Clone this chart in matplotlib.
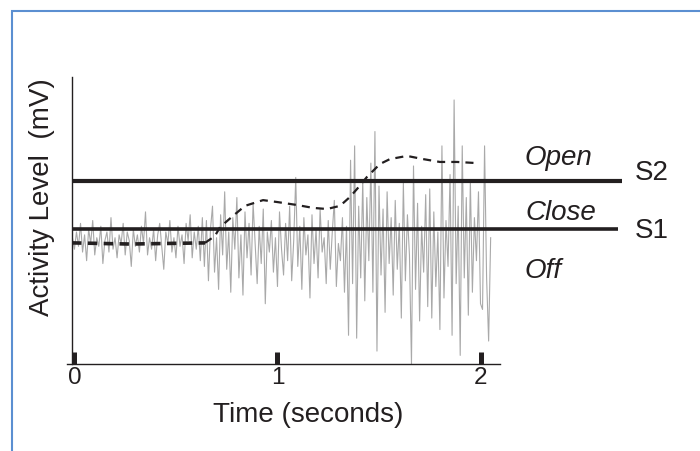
import numpy as np
import matplotlib
matplotlib.use("Agg")
import matplotlib.pyplot as plt
from matplotlib.patches import Rectangle

plt.rcParams['font.family'] = ['Liberation Sans', 'DejaVu Sans']
plt.rcParams['lines.scale_dashes'] = False

# raw activity trace, sampled every 10 ms starting at -0.01 s (values in mV)
sample_step = 0.01
sample_start = -0.01
activity = [
    # baseline (off)
    4.4, 4.0, 4.6, 4.1, 4.9, 3.9, 4.5, 3.6, 4.7, 4.2, 5.0, 3.8, 4.4, 4.1, 4.8, 3.5, 4.3, 4.6, 3.9, 5.1,
    4.0, 4.4, 3.7, 4.5, 4.2, 4.9, 3.8, 4.6, 4.3, 3.4, 4.7, 4.1, 4.5, 3.9, 4.8, 4.2, 5.3, 3.8, 4.4, 4.0,
    4.7, 3.6, 4.5, 4.9, 4.1, 3.3, 4.6, 4.2, 5.0, 3.9, 4.4, 3.7, 4.8, 4.1, 4.5, 3.5, 4.9, 4.3, 5.2, 3.7,
    4.6, 4.0, 4.8, 3.6, 5.1,
    # first contraction
    3.4, 5.0, 2.9, 4.7, 5.5, 3.2, 4.4, 2.6, 5.2, 3.8, 6.0, 3.3, 4.6, 2.5, 5.1, 4.0, 5.8, 3.0, 4.5, 2.4,
    5.3, 3.7, 4.9, 3.1, 5.6, 4.2, 2.8, 4.8, 3.5, 5.4, 2.1, 4.6, 3.9, 5.0, 3.2, 4.4, 2.7, 5.3, 4.0, 3.1,
    4.9, 3.6, 5.5, 2.9, 4.3, 6.5, 3.4, 4.8, 2.6, 5.1, 3.8, 4.5, 2.3, 5.2, 3.5, 4.7, 3.0, 5.4, 3.9, 4.4,
    2.8, 5.0, 3.3, 4.6, 5.7, 2.7, 4.2, 3.6, 5.1, 2.5, 4.8,
    # strong contraction
    1.0, 7.1, 2.8, 7.6, 0.9, 5.5, 3.0, 6.4, 2.2, 5.8, 3.6, 7.0, 2.5, 8.1, 0.45, 6.2, 3.1, 5.4, 1.8, 6.0,
    3.5, 5.1, 2.4, 5.7, 3.3, 4.9, 1.6, 6.3, 2.9, 5.2, 3.8, 0.0, 6.9, 2.6, 5.6, 1.5, 4.8, 3.2, 5.9, 2.0,
    6.1, 1.6, 5.3, 2.7, 4.6, 1.2, 7.6, 2.3, 5.0, 3.4, 6.6, 1.0, 9.2, 2.8, 5.5, 0.3, 7.6, 3.0, 5.8, 1.7,
    6.4, 2.5, 5.1, 3.6, 6.0, 2.1, 1.9, 7.6, 3.0, 0.8, 4.4,
]
activity_t = sample_start + sample_step * np.arange(len(activity))

# smoothed envelope (dashed)
env_t_rest = [-0.012, 0.273, 0.643]
env_y_rest = [4.22, 4.18, 4.22]
env_t = [0.643, 0.692, 0.717, 0.781, 0.840, 0.929, 1.002, 1.096, 1.175, 1.244, 1.308,
         1.357, 1.392, 1.441, 1.505, 1.554, 1.638, 1.717, 1.800, 1.884, 1.983]
env_y = [4.22, 4.46, 4.77, 5.16, 5.51, 5.71, 5.64, 5.54, 5.44, 5.40, 5.51,
         5.82, 6.10, 6.52, 6.97, 7.14, 7.25, 7.14, 7.04, 7.04, 7.00]

# thresholds
s1_level = 4.70
s2_level = 6.38
x_ticks = [0, 1, 2]

fig = plt.figure(figsize=(7, 4.52), dpi=100)
ax = fig.add_axes([72 / 700, 87 / 452, 428 / 700, 287 / 452])

ax.plot(activity_t, activity, color='#a9a9a9', lw=0.8, zorder=2)
ax.plot(env_t_rest, env_y_rest, color='#231f20', lw=2.6, ls=(0, (6.8, 4.6)), zorder=3)
ax.plot(env_t, env_y, color='#231f20', lw=1.6, ls=(0, (5.8, 4.4)), zorder=3)

ax.plot([-0.012, 2.697], [s2_level, s2_level], color='#231f20', lw=3.0, clip_on=False, zorder=4,
        solid_capstyle='butt')
ax.plot([-0.012, 2.677], [s1_level, s1_level], color='#231f20', lw=2.6, clip_on=False, zorder=4,
        solid_capstyle='butt')

txt = dict(fontsize=20, color='#231f20', va='baseline', ha='left')
ax.text(2.219, 6.97, 'Open', style='italic', **txt)
ax.text(2.219, 5.05, 'Close', style='italic', **txt)
ax.text(2.219, 3.03, 'Off', style='italic', **txt)
ax.text(2.761, 6.45, 'S2', **txt)
ax.text(2.761, 4.43, 'S1', **txt)

ax.set_xlim(-0.012, 2.096)
ax.set_ylim(0, 10)
ax.spines['top'].set_visible(False)
ax.spines['right'].set_visible(False)
ax.spines['left'].set_color('#231f20')
ax.spines['bottom'].set_color('#231f20')
ax.spines['left'].set_linewidth(1.0)
ax.spines['bottom'].set_linewidth(1.0)
ax.spines['bottom'].set_bounds(-0.037, 2.096)

ax.set_xticks(x_ticks)
ax.set_xticklabels([str(v) for v in x_ticks])
ax.tick_params(axis='x', direction='in', length=8.6, width=3.6, color='#231f20',
               labelsize=17.5, pad=1.5, labelcolor='#231f20')
ax.set_yticks([])

ax.set_xlabel('Time (seconds)', fontsize=20, color='#231f20')
ax.xaxis.set_label_coords(0.551, -0.128)
ax.set_ylabel('Activity Level  (mV)', fontsize=20, color='#231f20')
ax.yaxis.set_label_coords(-0.04, 0.585)

# light blue frame around the figure
fig.add_artist(Rectangle((12 / 700, -0.1), 1.2, 1.1 - 12 / 452, transform=fig.transFigure,
                         fill=False, edgecolor='#5b8fd1', lw=1.5))

fig.savefig('out.png', dpi=100)
